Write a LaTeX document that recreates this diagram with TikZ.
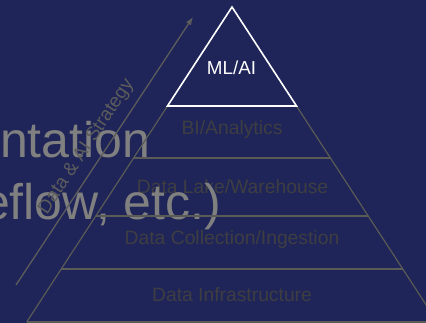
\documentclass[tikz,border=0pt]{standalone}
\usepackage{fontspec}
\setmainfont{Liberation Sans}
\usetikzlibrary{arrows.meta}
\definecolor{navy}{RGB}{31,37,88}
\definecolor{edgegray}{RGB}{90,90,86}
\definecolor{lblgray}{RGB}{62,62,66}
\definecolor{biggray}{RGB}{128,128,128}
\definecolor{arrgray}{RGB}{92,92,92}
\tikzset{
  bigtext/.style={text=biggray, inner sep=0pt, anchor=base west, font=\fontsize{50}{60}\selectfont},
  layerlabel/.style={text=lblgray, inner sep=0pt, font=\fontsize{19.3}{23}\selectfont},
  toplabel/.style={text=white, inner sep=0pt, font=\fontsize{18.8}{22}\selectfont},
  pyredge/.style={draw=edgegray, line width=1.2pt},
  sepline/.style={draw=edgegray, line width=1.5pt},
  topline/.style={draw=white, line width=1.6pt, line join=miter},
  strategyarrow/.style={draw=arrgray, line width=1.3pt, -{Latex[length=8pt,width=6pt]}},
  strategytext/.style={text=arrgray, inner sep=0pt, font=\fontsize{19}{23}\selectfont}
}
\begin{document}
\begin{tikzpicture}[x=1pt,y=-1pt]
\fill[navy] (0,0) rectangle (426,323);
\clip (0,0) rectangle (426,323);
\useasboundingbox (0,0) rectangle (426,323);
% layer labels
\node[layerlabel] (bi) at (232,130) {BI/Analytics};
\node[layerlabel] (lake) at (232.5,187) {Data Lake/Warehouse};
\node[layerlabel] (coll) at (232,240) {Data Collection/Ingestion};
\node[layerlabel] (infra) at (232,295) {Data Infrastructure};
% leftover slide text
\node[bigtext] (big1) at (0,158) {ntation};
\node[bigtext] (big2) at (-18,220) {eflow, etc.)};
% pyramid coordinates
\coordinate (apex) at (232,7);
\coordinate (l1) at (167.5,106); \coordinate (r1) at (296.5,106);
\coordinate (l2) at (133.5,158); \coordinate (r2) at (330.5,158);
\coordinate (l3) at (95.7,216);  \coordinate (r3) at (368.3,216);
\coordinate (l4) at (61.2,269);  \coordinate (r4) at (402.8,269);
\coordinate (l5) at (26.7,322);  \coordinate (r5) at (437.3,322);
% outer edges
\draw[pyredge] (l1) -- (l5);
\draw[pyredge] (r1) -- (r5);
% separators
\draw[sepline] (l2) -- (r2);
\draw[sepline] (l3) -- (r3);
\draw[sepline] (l4) -- (r4);
\draw[sepline, line width=2pt] (l5) -- (r5);
% top triangle
\draw[topline] (apex) -- (l1) -- (r1) -- cycle;
\node[toplabel] (ml) at (231.5,68) {ML/AI};
% strategy arrow
\coordinate (as) at (16,285);
\coordinate (ae) at (193,17);
\draw[strategyarrow] (as) -- (ae) node[strategytext, pos=0.48, sloped, above=8pt] (strat) {Data \& AI Strategy};
\end{tikzpicture}
\end{document}
